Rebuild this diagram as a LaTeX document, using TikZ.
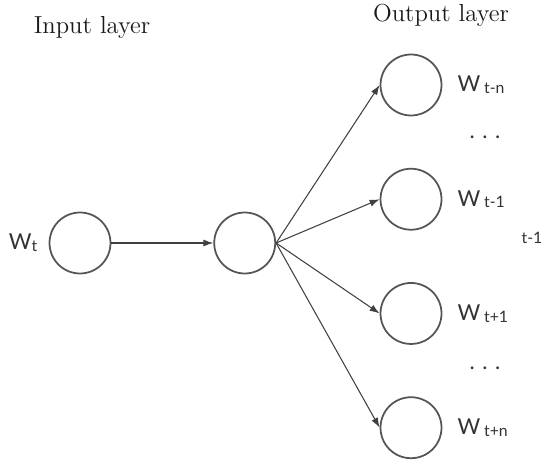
\documentclass[tikz,border=0pt]{standalone}
\usepackage{fontspec}
\newfontfamily\labelfont{Lato}
\usepackage{tikz}
\usetikzlibrary{
	arrows.meta,
	positioning
}
\definecolor{ringgray}{HTML}{555555}
\definecolor{textgray}{HTML}{333333}
\newcommand{\wlab}[1]{W\,\raisebox{-1pt}{\fontsize{9}{10}\selectfont #1}}

\begin{document}
\begin{tikzpicture}[
    x=0.02cm, y=-0.02cm,
    node distance=1.03cm and 0.3cm,
    neuron/.style={circle, draw=ringgray, line width=1pt, minimum size=1.22cm, inner sep=0pt},
    wlabel/.style={inner sep=0pt, font=\labelfont\fontsize{12.5}{14}\selectfont, text=textgray},
    heading/.style={inner sep=0pt, font=\fontsize{14}{16}\selectfont, text=black!90},
    arrow/.style={-{Latex[length=2mm, width=1.4mm]}, draw=black!75, line width=0.6pt}
]
\useasboundingbox (0,0) rectangle (550,462);
\node[heading] (inhead) at (92,27) {Input layer};
\node[heading] (outhead) at (441,15) {Output layer};

\node[neuron] (in) at (80,243) {};
\node[neuron, right=2.04cm of in] (hid) {};
\node[neuron] (out1) at (411,85) {};
\node[neuron, below=of out1] (out2) {};
\node[neuron, below=of out2] (out3) {};
\node[neuron, below=of out3] (out4) {};

\node[wlabel, left=0.22cm of in] (wt) {W\raisebox{-1pt}{\fontsize{9}{10}\selectfont t}};
\node[wlabel, right=of out1] (w1) {\wlab{t-n}};
\node[wlabel, right=of out2] (w2) {\wlab{t-1}};
\node[wlabel, right=of out3] (w3) {\wlab{t+1}};
\node[wlabel, right=of out4] (w4) {\wlab{t+n}};
\node[wlabel] (dots1) at (485,137) {. . .};
\node[wlabel] (dots2) at (485,368) {. . .};
\node[wlabel, font=\labelfont\fontsize{9}{10}\selectfont] (lone) at (532,238) {t-1};

\draw[arrow] (in) -- (hid);
\draw[arrow] (hid.east) -- (out1.west);
\draw[arrow] (hid.east) -- (out2.west);
\draw[arrow] (hid.east) -- (out3.west);
\draw[arrow] (hid.east) -- (out4.west);
\end{tikzpicture}
\end{document}
